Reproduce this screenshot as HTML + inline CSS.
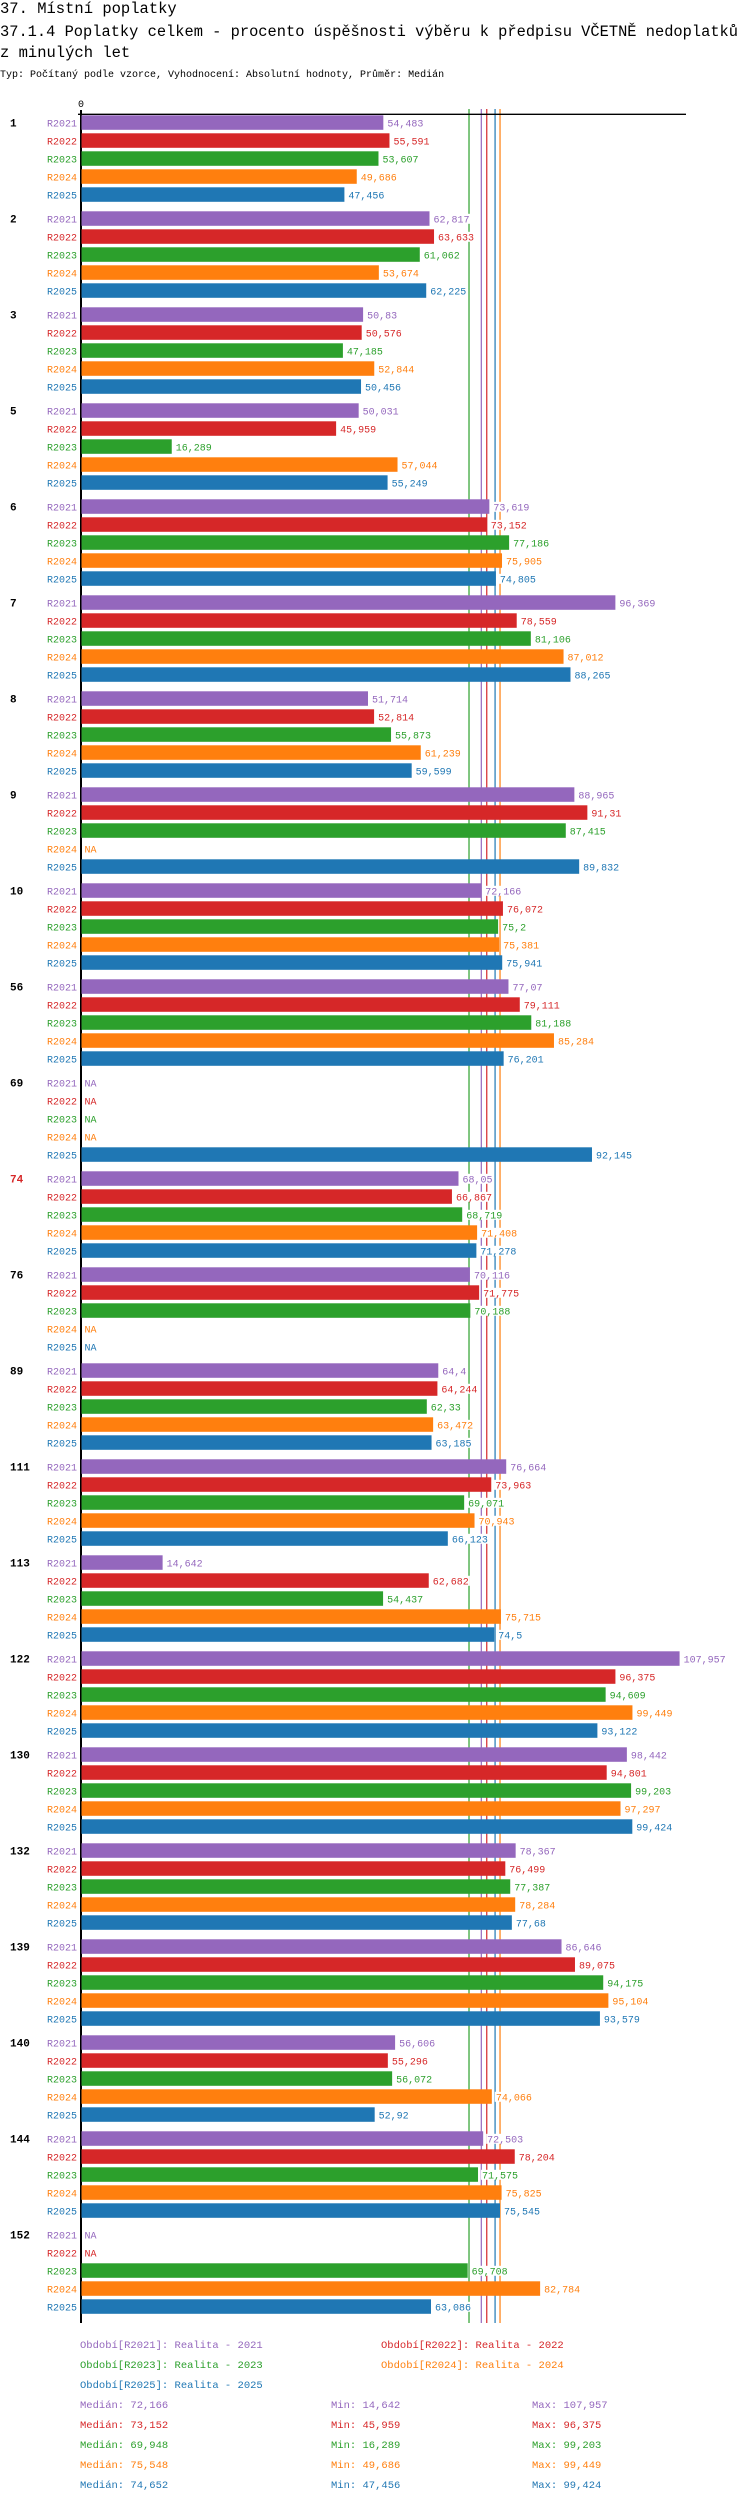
<!DOCTYPE html>
<html><head><meta charset="utf-8">
<style>
body{margin:0;background:#fff;}
svg{display:block;font-family:"Liberation Mono",monospace;}
</style></head>
<body>
<svg id="chart" width="750" height="2502" viewBox="0 0 750 2502" xmlns="http://www.w3.org/2000/svg">
<text x="0" y="13" font-size="15.5" fill="#000">37. Místní poplatky</text>
<text x="0" y="36" font-size="15.5" fill="#000" textLength="738" lengthAdjust="spacingAndGlyphs">37.1.4 Poplatky celkem - procento úspěšnosti výběru k předpisu VČETNĚ nedoplatků</text>
<text x="0" y="57" font-size="15.5" fill="#000">z minulých let</text>
<text x="0" y="77" font-size="10" fill="#000">Typ: Počítaný podle vzorce, Vyhodnocení: Absolutní hodnoty, Průměr: Medián</text>
<g id="plot"></g>
</svg>
<script>
const categories = ["1","2","3","5","6","7","8","9","10","56","69","74","76","89","111","113","122","130","132","139","140","144","152"];
const seriesNames = ["R2021","R2022","R2023","R2024","R2025"];
const r2021 = [54.483,62.817,50.83,50.031,73.619,96.369,51.714,88.965,72.166,77.07,null,68.05,70.116,64.4,76.664,14.642,107.957,98.442,78.367,86.646,56.606,72.503,null];
const r2022 = [55.591,63.633,50.576,45.959,73.152,78.559,52.814,91.31,76.072,79.111,null,66.867,71.775,64.244,73.963,62.682,96.375,94.801,76.499,89.075,55.296,78.204,null];
const r2023 = [53.607,61.062,47.185,16.289,77.186,81.106,55.873,87.415,75.2,81.188,null,68.719,70.188,62.33,69.071,54.437,94.609,99.203,77.387,94.175,56.072,71.575,69.708];
const r2024 = [49.686,53.674,52.844,57.044,75.905,87.012,61.239,null,75.381,85.284,null,71.408,null,63.472,70.943,75.715,99.449,97.297,78.284,95.104,74.066,75.825,82.784];
const r2025 = [47.456,62.225,50.456,55.249,74.805,88.265,59.599,89.832,75.941,76.201,92.145,71.278,null,63.185,66.123,74.5,93.122,99.424,77.68,93.579,52.92,75.545,63.086];
const medians = [72.166,73.152,69.948,75.548,74.652];
const mins = [14.642,45.959,16.289,49.686,47.456];
const maxs = [107.957,96.375,99.203,99.449,99.424];
const legendLabels = ["Období[R2021]: Realita - 2021","Období[R2022]: Realita - 2022","Období[R2023]: Realita - 2023","Období[R2024]: Realita - 2024","Období[R2025]: Realita - 2025"];
const highlighted = ["74"];

const series = [r2021,r2022,r2023,r2024,r2025];
const colors = ["#9467bd","#d62728","#2ca02c","#ff7f0e","#1f77b4"];
const NS = "http://www.w3.org/2000/svg";
const plot = document.getElementById('plot');
const x0 = 81.5, scale = 5.54;
const xPos = v => x0 + v * scale;
const top0 = 115.3, groupPitch = 96, barPitch = 18, barH = 14.5;
const yBar = (g,i) => top0 + g*groupPitch + i*barPitch;
const axisBottom = 2323;
const fmt = v => String(v).replace('.', ',');

function mk(tag, attrs, parent){
  const e = document.createElementNS(NS, tag);
  for (const k in attrs) e.setAttribute(k, attrs[k]);
  (parent||plot).appendChild(e);
  return e;
}
function txt(s, attrs, parent){ const t = mk('text', attrs, parent); t.textContent = s; return t; }

// median lines
const medG = mk('g', {});


medians.forEach((m, i) => {
  const l = mk('line', {x1:xPos(m), x2:xPos(m), y1:109, y2:axisBottom, stroke:colors[i], 'stroke-width':1.2}, medG);
  
  
});

// axes
const xa = mk('line', {x1:78, x2:686, y1:114.3, y2:114.3, stroke:'#000', 'stroke-width':1.3});


const ya = mk('line', {x1:81, x2:81, y1:110, y2:axisBottom, stroke:'#000', 'stroke-width':2});


const zl = txt('0', {x:81, y:107, 'font-size':10, 'text-anchor':'middle', fill:'#000'});



// bars
categories.forEach((c, g) => {
  const gl = txt(c, {x:10, y:yBar(g,0)+11, 'font-size':11, 'font-weight':'bold', fill: highlighted.includes(c) ? '#d62728' : '#000'});
  
  
  series.forEach((s, i) => {
    const y = yBar(g,i);
    const v = s[g];
    const sl = txt(seriesNames[i], {x:77, y:y+11, 'font-size':10, 'text-anchor':'end', fill:colors[i]});
    
    
    let lx = x0 + 3;
    const label = v === null ? 'NA' : fmt(v);
    if (v !== null) {
      const r = mk('rect', {x:x0, y:y, width:xPos(v)-x0, height:barH, fill:colors[i]});
      
      
      lx = xPos(v) + 4;
    }
    const w = label.length * 6;
    mk('rect', {x:lx-1, y:y+2.5, width:w+2, height:10, fill:'#fff'});
    const vl = txt(label, {x:lx, y:y+11, 'font-size':10, fill:colors[i]});
    
    
  });
});

// legend
const legPos = [[80,2348],[381,2348],[80,2368],[381,2368],[80,2388]];
legendLabels.forEach((s, i) => {
  const t = txt(s, {x:legPos[i][0], y:legPos[i][1], 'font-size':10.5, fill:colors[i]});
  
  
});
series.forEach((s, i) => {
  const y = 2408 + i*20;
  const a = txt('Medián: ' + fmt(medians[i]), {x:80, y:y, 'font-size':10.5, fill:colors[i]});
  
  
  const b = txt('Min: ' + fmt(mins[i]), {x:331, y:y, 'font-size':10.5, fill:colors[i]});
  
  
  const d = txt('Max: ' + fmt(maxs[i]), {x:532, y:y, 'font-size':10.5, fill:colors[i]});
  
  
});
</script>
</body></html>
